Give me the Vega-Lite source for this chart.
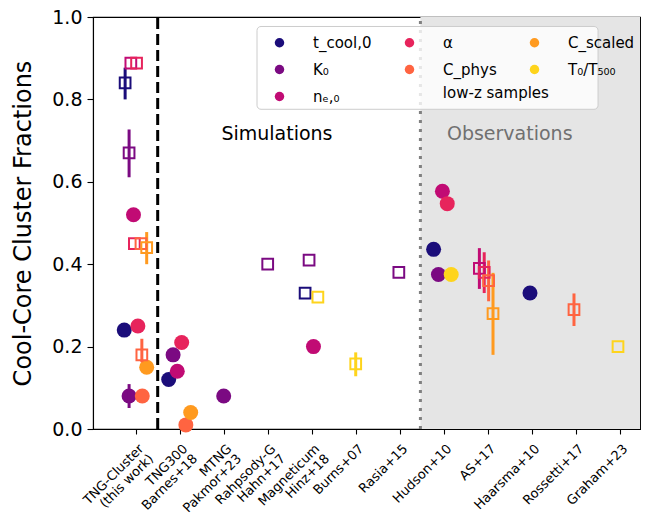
{
  "$schema": "https://vega.github.io/schema/vega-lite/v6.json",
  "width": 547,
  "height": 412,
  "autosize": {"type": "none"},
  "padding": {"left": 93, "top": 17, "right": 10, "bottom": 86},
  "config": {
    "font": "DejaVu Sans",
    "view": {"stroke": "black", "strokeWidth": 1.1},
    "axis": {"domainColor": "black", "tickColor": "black", "labelColor": "black", "titleColor": "black", "grid": false, "domainWidth": 1.1, "tickWidth": 1.1, "labelFont": "DejaVu Sans", "titleFont": "DejaVu Sans"},
    "legend": {"labelFont": "DejaVu Sans"}
  },
  "datasets": {
    "pts": [
      {"x": -0.26, "y": 0.24, "param": "t_cool,0", "sample": "z0"},
      {"x": -0.15, "y": 0.08, "lo": 0.051, "hi": 0.109, "param": "K₀", "sample": "z0"},
      {"x": -0.05, "y": 0.52, "param": "nₑ,₀", "sample": "z0"},
      {"x": 0.05, "y": 0.25, "param": "α", "sample": "z0"},
      {"x": 0.15, "y": 0.08, "param": "C_phys", "sample": "z0"},
      {"x": 0.25, "y": 0.15, "param": "C_scaled", "sample": "z0"},
      {"x": 0.75, "y": 0.12, "param": "t_cool,0", "sample": "z0"},
      {"x": 0.85, "y": 0.18, "param": "K₀", "sample": "z0"},
      {"x": 0.945, "y": 0.14, "param": "nₑ,₀", "sample": "z0"},
      {"x": 1.045, "y": 0.21, "param": "α", "sample": "z0"},
      {"x": 1.14, "y": 0.01, "param": "C_phys", "sample": "z0"},
      {"x": 1.25, "y": 0.04, "param": "C_scaled", "sample": "z0"},
      {"x": 2.0, "y": 0.08, "param": "K₀", "sample": "z0"},
      {"x": 4.04, "y": 0.2, "param": "nₑ,₀", "sample": "z0"},
      {"x": 6.77, "y": 0.436, "param": "t_cool,0", "sample": "z0"},
      {"x": 6.88, "y": 0.375, "param": "K₀", "sample": "z0"},
      {"x": 6.97, "y": 0.577, "param": "nₑ,₀", "sample": "z0"},
      {"x": 7.08, "y": 0.547, "param": "α", "sample": "z0"},
      {"x": 7.17, "y": 0.375, "param": "T₀/T₅₀₀", "sample": "z0"},
      {"x": 8.96, "y": 0.33, "param": "t_cool,0", "sample": "z0"},
      {"x": -0.24, "y": 0.84, "lo": 0.8, "hi": 0.877, "param": "t_cool,0", "sample": "lowz"},
      {"x": -0.15, "y": 0.67, "lo": 0.611, "hi": 0.727, "param": "K₀", "sample": "lowz"},
      {"x": -0.11, "y": 0.888, "param": "nₑ,₀", "sample": "lowz"},
      {"x": 0.02, "y": 0.888, "param": "α", "sample": "lowz"},
      {"x": -0.03, "y": 0.45, "param": "α", "sample": "lowz"},
      {"x": 0.12, "y": 0.45, "param": "C_phys", "sample": "lowz"},
      {"x": 0.14, "y": 0.18, "lo": 0.162, "hi": 0.219, "param": "C_phys", "sample": "lowz"},
      {"x": 0.25, "y": 0.44, "lo": 0.4, "hi": 0.478, "param": "C_scaled", "sample": "lowz"},
      {"x": 3.0, "y": 0.4, "param": "K₀", "sample": "lowz"},
      {"x": 3.85, "y": 0.33, "param": "t_cool,0", "sample": "lowz"},
      {"x": 3.94, "y": 0.41, "param": "K₀", "sample": "lowz"},
      {"x": 4.14, "y": 0.32, "param": "T₀/T₅₀₀", "sample": "lowz"},
      {"x": 5.0, "y": 0.158, "lo": 0.128, "hi": 0.186, "param": "T₀/T₅₀₀", "sample": "lowz"},
      {"x": 5.98, "y": 0.38, "param": "K₀", "sample": "lowz"},
      {"x": 7.81, "y": 0.39, "lo": 0.34, "hi": 0.439, "param": "nₑ,₀", "sample": "lowz"},
      {"x": 7.92, "y": 0.38, "lo": 0.33, "hi": 0.429, "param": "α", "sample": "lowz"},
      {"x": 8.02, "y": 0.36, "lo": 0.31, "hi": 0.409, "param": "C_phys", "sample": "lowz"},
      {"x": 8.12, "y": 0.28, "lo": 0.18, "hi": 0.379, "param": "C_scaled", "sample": "lowz"},
      {"x": 9.96, "y": 0.29, "lo": 0.25, "hi": 0.329, "param": "C_phys", "sample": "lowz"},
      {"x": 10.96, "y": 0.2, "param": "T₀/T₅₀₀", "sample": "lowz"}
    ],
    "one": [{"k": 1}]
  },
  "layer": [
    {
      "data": {"name": "one"},
      "mark": {"type": "rect", "fill": "#e5e5e5"},
      "encoding": {
        "x": {
          "datum": 6.47, "type": "quantitative",
          "scale": {"domain": [-0.97, 11.46], "nice": false, "zero": false},
          "axis": {
            "title": null,
            "values": [0, 1, 2, 3, 4, 5, 6, 7, 8, 9, 10, 11],
            "tickSize": 5,
            "labelFontSize": 13,
            "labelAngle": -45,
            "labelAlign": "right",
            "labelBaseline": "top",
            "labelPadding": 8,
            "labelOffset": 1,
            "labelOverlap": false,
            "labelFlush": false,
            "labelBound": false,
            "labelLineHeight": 14,
            "labelExpr": "split(['TNG-Cluster|(this work)','TNG300|Barnes+18','MTNG|Pakmor+23','Rahpsody-G|Hahn+17','Magneticum|Hinz+18','Burns+07','Rasia+15','Hudson+10','AS+17','Haarsma+10','Rossetti+17','Graham+23'][datum.value], '|')"
          }
        },
        "x2": {"datum": 11.46},
        "y": {
          "datum": 0, "type": "quantitative",
          "scale": {"domain": [0, 1], "nice": false},
          "axis": {
            "title": "Cool-Core Cluster Fractions",
            "values": [0, 0.2, 0.4, 0.6, 0.8, 1.0],
            "format": ".1f",
            "tickSize": 6,
            "labelFontSize": 19,
            "labelPadding": 5,
            "titleFontSize": 24,
            "titleFontWeight": "normal",
            "titlePadding": 16
          }
        },
        "y2": {"datum": 1}
      }
    },
    {
      "data": {"name": "one"},
      "mark": {"type": "rule", "color": "black", "strokeWidth": 3, "strokeDash": [11, 5]},
      "encoding": {"x": {"datum": 0.5, "type": "quantitative"}, "y": {"datum": 0, "type": "quantitative"}, "y2": {"datum": 1}}
    },
    {
      "data": {"name": "one"},
      "mark": {"type": "rule", "color": "#808080", "strokeWidth": 3, "strokeDash": [3, 6]},
      "encoding": {"x": {"datum": 6.47, "type": "quantitative"}, "y": {"datum": 0, "type": "quantitative"}, "y2": {"datum": 1}}
    },
    {
      "data": {"name": "one"},
      "mark": {"type": "rect", "fill": "white", "fillOpacity": 0.8, "stroke": "#cccccc", "strokeWidth": 1, "cornerRadius": 4},
      "encoding": {"x": {"datum": 2.757, "type": "quantitative"}, "x2": {"datum": 10.507}, "y": {"datum": 0.776, "type": "quantitative"}, "y2": {"datum": 0.977}}
    },
    {
      "data": {"name": "one"},
      "mark": {"type": "text", "text": "low-z samples", "fontSize": 15, "align": "left", "baseline": "middle", "color": "black"},
      "encoding": {"x": {"datum": 6.98, "type": "quantitative"}, "y": {"datum": 0.8146, "type": "quantitative"}}
    },
    {
      "data": {"name": "one"},
      "mark": {"type": "text", "text": "Simulations", "fontSize": 19, "align": "center", "baseline": "middle", "color": "black"},
      "encoding": {"x": {"datum": 3.21, "type": "quantitative"}, "y": {"datum": 0.717, "type": "quantitative"}}
    },
    {
      "data": {"name": "one"},
      "mark": {"type": "text", "text": "Observations", "fontSize": 19, "align": "center", "baseline": "middle", "color": "#707070"},
      "encoding": {"x": {"datum": 8.5, "type": "quantitative"}, "y": {"datum": 0.717, "type": "quantitative"}}
    },
    {
      "data": {"name": "pts"},
      "transform": [{"filter": "datum.sample == 'z0'"}],
      "mark": {"type": "point", "shape": "circle", "filled": true, "size": 225, "opacity": 1},
      "encoding": {
        "x": {"field": "x", "type": "quantitative"},
        "y": {"field": "y", "type": "quantitative"},
        "color": {
          "field": "param", "type": "nominal",
          "scale": {
            "domain": ["t_cool,0", "α", "C_scaled", "K₀", "C_phys", "T₀/T₅₀₀", "nₑ,₀"],
            "range": ["#1b0d7a", "#e7245c", "#ff9a1f", "#7b0a82", "#ff6441", "#fed41c", "#c10b74"]
          },
          "legend": {
            "title": null,
            "values": ["t_cool,0", "α", "C_scaled", "K₀", "C_phys", "T₀/T₅₀₀", "nₑ,₀"],
            "orient": "none",
            "direction": "horizontal",
            "legendX": 179,
            "legendY": 18,
            "columns": 3,
            "gridAlign": "each",
            "columnPadding": 30,
            "rowPadding": 11,
            "padding": 0,
            "symbolType": "circle",
            "symbolSize": 90,
            "symbolOffset": 0,
            "symbolStrokeWidth": 0,
            "labelOffset": 26,
            "labelFontSize": 15,
            "labelColor": "black",
            "encode": {
              "symbols": {"update": {"shape": {"value": "circle"}, "fill": {"scale": "color", "field": "value"}, "stroke": {"value": "transparent"}, "strokeWidth": {"value": 0}, "opacity": {"value": 1}}}
            }
          }
        }
      }
    },
    {
      "data": {"name": "pts"},
      "transform": [{"filter": "isValid(datum.lo)"}],
      "mark": {"type": "rule", "strokeWidth": 3},
      "encoding": {
        "x": {"field": "x", "type": "quantitative"},
        "y": {"field": "lo", "type": "quantitative"},
        "y2": {"field": "hi"},
        "color": {"field": "param", "type": "nominal"}
      }
    },
    {
      "data": {"name": "pts"},
      "transform": [{"filter": "datum.sample == 'lowz'"}],
      "mark": {"type": "point", "shape": "square", "filled": false, "strokeWidth": 2, "size": 115, "opacity": 1},
      "encoding": {
        "x": {"field": "x", "type": "quantitative"},
        "y": {"field": "y", "type": "quantitative"},
        "color": {"field": "param", "type": "nominal"}
      }
    }
  ]
}
